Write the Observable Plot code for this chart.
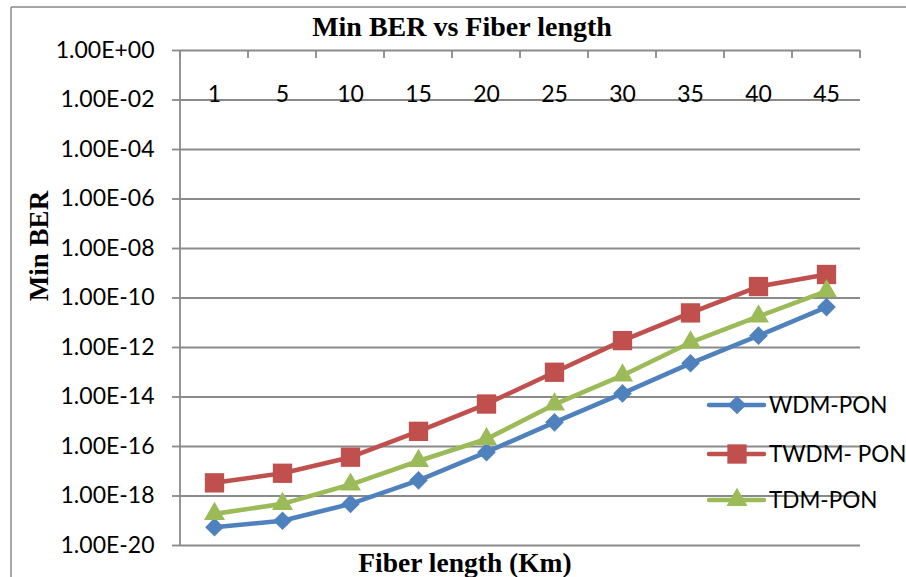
<!DOCTYPE html>
<html><head><meta charset="utf-8">
<script src="https://cdn.jsdelivr.net/npm/d3@7"></script>
<script src="https://cdn.jsdelivr.net/npm/@observablehq/plot@0.6"></script>
<style>
body{margin:0;background:#fff}
#chart{width:906px;height:577px;overflow:hidden;position:relative}
</style>
</head><body><div id="chart"></div>
<script>
// ---- data ----
const categories = ["1","5","10","15","20","25","30","35","40","45"];
const seriesNames = ["WDM-PON","TWDM- PON","TDM-PON"];
const wdmPon  = [5.5e-20, 1.0e-19, 4.8e-19, 4.3e-18, 5.9e-17, 9.5e-16, 1.4e-14, 2.3e-13, 3.0e-12, 4.3e-11];
const twdmPon = [3.4e-18, 8.3e-18, 3.7e-17, 4.1e-16, 5.2e-15, 1.0e-13, 1.9e-12, 2.5e-11, 2.9e-10, 8.9e-10];
const tdmPon  = [1.9e-19, 4.8e-19, 2.9e-18, 2.6e-17, 2.0e-16, 5.0e-15, 7.4e-14, 1.6e-12, 1.8e-11, 1.9e-10];
const yTicks = [1e0,1e-2,1e-4,1e-6,1e-8,1e-10,1e-12,1e-14,1e-16,1e-18,1e-20];
const chartTitle = "Min BER vs Fiber length";
const xTitle = "Fiber length (Km)";
const yTitle = "Min BER";

const seriesColors = ["#4F81BD","#C0504D","#9BBB59"];
const seriesSymbols = [d3.symbolDiamond2, d3.symbolSquare, d3.symbolTriangle];
const seriesRadii = [8.4, 10.9, 7.8];
const gridColor = "#8a8a8a";

const fmt = d => {
  const e = Math.round(Math.log10(d));
  return "1.00E" + (e < 0 ? "-" : "+") + String(Math.abs(e)).padStart(2, "0");
};

const table = [];
[wdmPon, twdmPon, tdmPon].forEach((vals, s) =>
  vals.forEach((v, i) => table.push({series: seriesNames[s], len: categories[i], ber: v})));

const marks = [
  Plot.gridY(yTicks, {stroke: gridColor, strokeOpacity: 1, strokeWidth: 1.8}),
  Plot.axisY(yTicks, {tickFormat: fmt, tickSize: 8, tickPadding: 18, fontSize: 23,
    stroke: gridColor, strokeWidth: 1.8, fill: "#000", label: null}),
  Plot.text(categories, {x: d => d, frameAnchor: "top", dy: 35, fontSize: 23, fill: "#000"})
];
seriesNames.forEach((name, s) => {
  marks.push(Plot.line(table, {filter: d => d.series === name, x: "len", y: "ber",
    stroke: seriesColors[s], strokeWidth: 4.6, strokeLinejoin: "round"}));
  marks.push(Plot.dot(table, {filter: d => d.series === name, x: "len", y: "ber",
    symbol: seriesSymbols[s], r: seriesRadii[s], fill: seriesColors[s], stroke: "none"}));
});

const plot = Plot.plot({
  width: 906, height: 577,
  marginLeft: 180, marginRight: 46, marginTop: 50, marginBottom: 32,
  style: {fontFamily: "Lato", background: "#fff", color: "#000", overflow: "visible"},
  x: {type: "point", domain: categories, padding: 0.5, axis: null},
  y: {type: "log", domain: [1e-20, 1], axis: null},
  marks
});
document.getElementById("chart").appendChild(plot);

// ---- decorations using the library's scales ----
const svg = d3.select(plot);
const xs = plot.scale("x"), ys = plot.scale("y");
const [x0, x1] = xs.range;
const step = (x1 - x0) / categories.length;
const yTop = ys.apply(1), yBot = ys.apply(1e-20);

const deco = svg.append("g").attr("stroke", gridColor).attr("stroke-width", 1.8).attr("fill", "none");
deco.append("line").attr("x1", x0).attr("x2", x0).attr("y1", yTop).attr("y2", yBot);
categories.forEach((c, i) => {
  const bx = xs.apply(c) - step / 2;
  deco.append("line").attr("x1", bx).attr("x2", bx).attr("y1", yTop).attr("y2", yTop + 8);
  if (i === categories.length - 1) {
    const ex = xs.apply(c) + step / 2;
    deco.append("line").attr("x1", ex).attr("x2", ex).attr("y1", yTop).attr("y2", yTop + 8);
  }
});
deco.append("line").attr("x1", 11).attr("x2", 11).attr("y1", 7).attr("y2", 577).attr("stroke-width", 1.5);
deco.append("line").attr("x1", 11).attr("x2", 906).attr("y1", 7).attr("y2", 7).attr("stroke-width", 1.5);

// titles
const serif = "'Liberation Serif', 'Times New Roman', serif";
svg.append("text").attr("x", 462).attr("y", 36).attr("text-anchor", "middle")
  .attr("font-family", serif).attr("font-weight", "bold").attr("font-size", 28).attr("fill", "#000")
  .text(chartTitle);
svg.append("text").attr("x", 465).attr("y", 572).attr("text-anchor", "middle")
  .attr("font-family", serif).attr("font-weight", "bold").attr("font-size", 27.5).attr("fill", "#000")
  .text(xTitle);
svg.append("text").attr("transform", "translate(48,246) rotate(-90)").attr("text-anchor", "middle")
  .attr("font-family", serif).attr("font-weight", "bold").attr("font-size", 27).attr("fill", "#000")
  .text(yTitle);

// legend
const legendY = [405, 454, 500];
seriesNames.forEach((name, s) => {
  const g = svg.append("g").attr("transform", `translate(0,${legendY[s]})`);
  g.append("line").attr("x1", 709).attr("x2", 764).attr("y1", 0).attr("y2", 0)
    .attr("stroke", seriesColors[s]).attr("stroke-width", 4.5).attr("stroke-linecap", "round");
  g.append("path").attr("transform", "translate(737,0)")
    .attr("d", d3.symbol(seriesSymbols[s], Math.PI * seriesRadii[s] ** 2)())
    .attr("fill", seriesColors[s]);
  g.append("text").attr("x", 769).attr("y", 0).attr("dy", "0.35em").attr("text-anchor", "start")
    .attr("font-family", "Lato").attr("font-size", 22.5).attr("fill", "#000").text(name);
});
</script>
</body></html>
